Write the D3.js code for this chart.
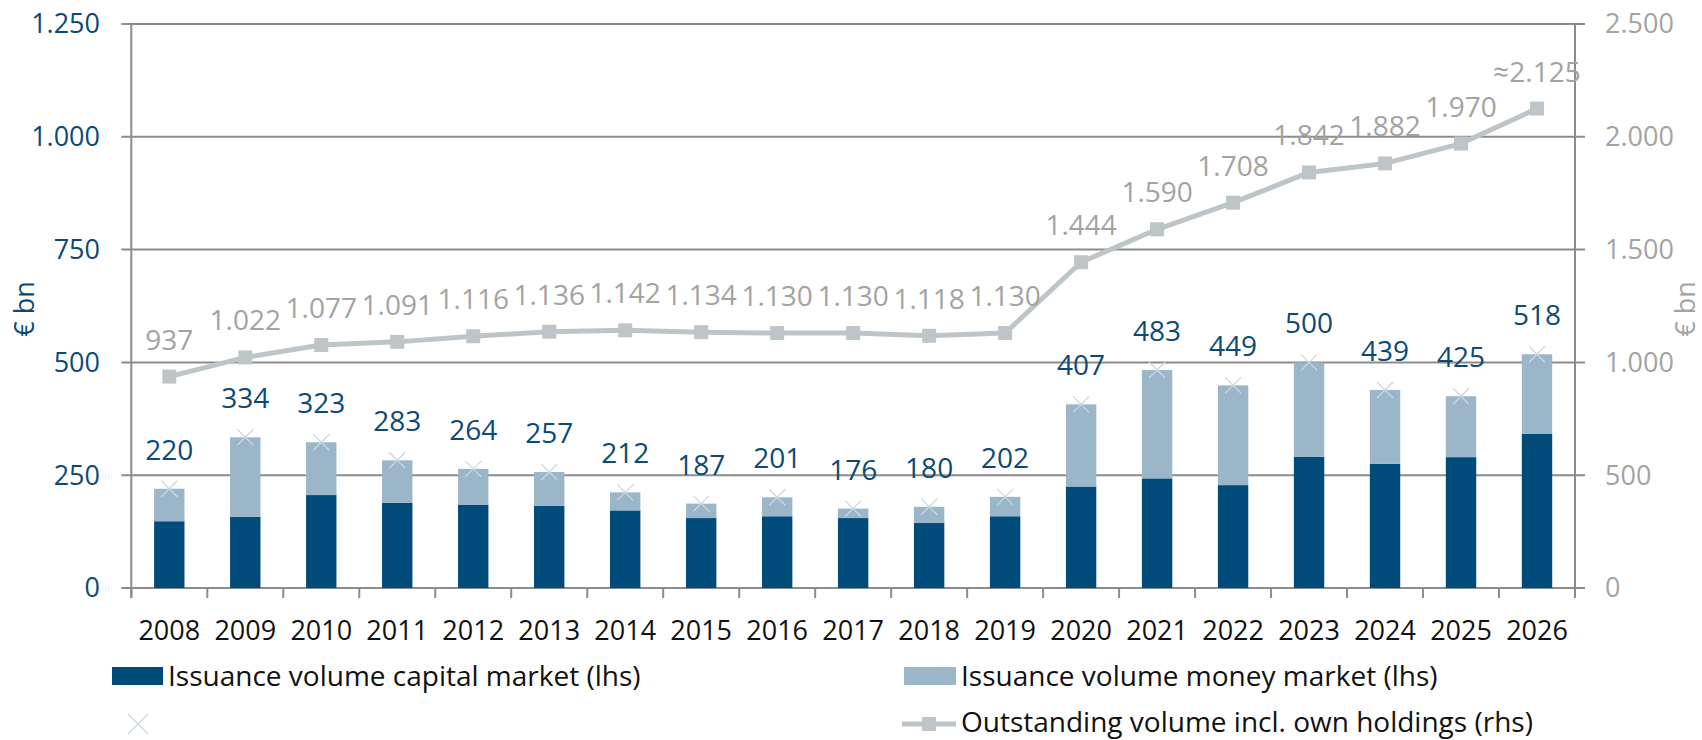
<!DOCTYPE html>
<html><head><meta charset="utf-8">
<script src="https://cdn.jsdelivr.net/npm/d3@7"></script>
<style>
html,body{margin:0;padding:0;background:#fff;}
svg text{font-family:"Open Sans",sans-serif;}
</style></head>
<body>
<svg id="chart" width="1702" height="740"></svg>
<script>
const years = ["2008","2009","2010","2011","2012","2013","2014","2015","2016","2017","2018","2019","2020","2021","2022","2023","2024","2025","2026"];
const totalVolume = [220,334,323,283,264,257,212,187,201,176,180,202,407,483,449,500,439,425,518];
const capitalMarket = [148,158,206,189,184,182,172,155,159,155,144,159,225,243,228,291,275,290,342];
const outstanding = [937,1022,1077,1091,1116,1136,1142,1134,1130,1130,1118,1130,1444,1590,1708,1842,1882,1970,2125];
const outstandingLabels = ["937","1.022","1.077","1.091","1.116","1.136","1.142","1.134","1.130","1.130","1.118","1.130","1.444","1.590","1.708","1.842","1.882","1.970","≈2.125"];
const leftTicks = [0,250,500,750,1000,1250];
const rightTicks = [0,500,1000,1500,2000,2500];
const legendLabels = ["Issuance volume capital market (lhs)","Issuance volume money market (lhs)","Outstanding volume incl. own holdings (rhs)"];

const C = {dark:"#004b7a", light:"#9bb6c9", line:"#bec5c9", grid:"#8c8c8c", grayText:"#a3a3a3", blueText:"#0b4a77", xmark:"#c9d9e4"};
const FS = 28, FT = 27;

const moneyMarket = totalVolume.map((t,i)=>t-capitalMarket[i]);
const loc = d3.formatLocale({decimal:",", thousands:".", grouping:[3], currency:["","€"]});
const fmt = loc.format(",");

const svg = d3.select("#chart");
const L = 131.3, R = 1575, T = 24, B = 588;

const x = d3.scaleBand().domain(years).range([L,R]).paddingInner(0.6).paddingOuter(0.3);
const xb = d3.scaleBand().domain(years).range([L,R]).padding(0);
const yL = d3.scaleLinear().domain([0,1250]).range([B,T]);
const yR = d3.scaleLinear().domain([0,2500]).range([B,T]);

// gridlines
svg.append("g").selectAll("line").data(leftTicks).join("line")
  .attr("x1",L-10).attr("x2",R+10).attr("y1",d=>yL(d)).attr("y2",d=>yL(d))
  .attr("stroke",C.grid).attr("stroke-width",2);
// vertical axes
svg.append("line").attr("x1",L).attr("x2",L).attr("y1",T).attr("y2",B+10).attr("stroke",C.grid).attr("stroke-width",2);
svg.append("line").attr("x1",R).attr("x2",R).attr("y1",T).attr("y2",B+10).attr("stroke",C.grid).attr("stroke-width",2);
// category ticks
const bounds = years.map(y=>xb(y)).concat([R]);
svg.append("g").selectAll("line").data(bounds).join("line")
  .attr("x1",d=>d).attr("x2",d=>d).attr("y1",B).attr("y2",B+10)
  .attr("stroke",C.grid).attr("stroke-width",2);

// left tick labels
svg.append("g").selectAll("text").data(leftTicks).join("text")
  .attr("x",100).attr("y",d=>yL(d)).attr("dy","0.35em").attr("text-anchor","end")
  .attr("font-size",FT).attr("fill",C.blueText).text(d=>fmt(d));
// right tick labels
svg.append("g").selectAll("text").data(rightTicks).join("text")
  .attr("x",1605).attr("y",d=>yR(d)).attr("dy","0.35em").attr("text-anchor","start")
  .attr("font-size",FT).attr("fill",C.grayText).text(d=>fmt(d));
// axis titles
svg.append("text").attr("transform","translate(25,309) rotate(-90)").attr("text-anchor","middle").attr("dy","0.35em")
  .attr("font-size",FT).attr("fill",C.blueText).text("€ bn");
svg.append("text").attr("transform","translate(1686,309) rotate(-90)").attr("text-anchor","middle").attr("dy","0.35em")
  .attr("font-size",FT).attr("fill",C.grayText).text("€ bn");

// x labels
svg.append("g").selectAll("text").data(years).join("text")
  .attr("x",d=>x(d)+x.bandwidth()/2).attr("y",640).attr("text-anchor","middle")
  .attr("font-size",FT).attr("fill","#111").text(d=>d);

// bars
svg.append("g").selectAll("rect").data(years).join("rect")
  .attr("x",d=>x(d)).attr("width",x.bandwidth())
  .attr("y",(d,i)=>yL(capitalMarket[i])).attr("height",(d,i)=>B-yL(capitalMarket[i]))
  .attr("fill",C.dark);
svg.append("g").selectAll("rect").data(years).join("rect")
  .attr("x",d=>x(d)).attr("width",x.bandwidth())
  .attr("y",(d,i)=>yL(capitalMarket[i]+moneyMarket[i])).attr("height",(d,i)=>yL(capitalMarket[i])-yL(capitalMarket[i]+moneyMarket[i]))
  .attr("fill",C.light);

// X markers at totals
const xm = svg.append("g").attr("stroke",C.xmark).attr("stroke-width",1.3);
years.forEach((d,i)=>{
  const cx = x(d)+x.bandwidth()/2, cy = yL(totalVolume[i]), s=8;
  xm.append("path").attr("d",`M${cx-s},${cy-s}L${cx+s},${cy+s}M${cx-s},${cy+s}L${cx+s},${cy-s}`);
});

// bar labels
svg.append("g").selectAll("text").data(years).join("text")
  .attr("x",d=>x(d)+x.bandwidth()/2).attr("y",(d,i)=>yL(totalVolume[i])-29).attr("text-anchor","middle")
  .attr("font-size",FS).attr("fill",C.blueText).text((d,i)=>totalVolume[i]);

// line
const line = d3.line().x((d,i)=>x(years[i])+x.bandwidth()/2).y(d=>yR(d));
svg.append("path").datum(outstanding).attr("d",line).attr("fill","none").attr("stroke",C.line).attr("stroke-width",5).attr("stroke-linejoin","round");
svg.append("g").selectAll("rect").data(outstanding).join("rect")
  .attr("x",(d,i)=>x(years[i])+x.bandwidth()/2-7).attr("y",d=>yR(d)-7).attr("width",14).attr("height",14)
  .attr("fill",C.line);
svg.append("g").selectAll("text").data(outstanding).join("text")
  .attr("x",(d,i)=>x(years[i])+x.bandwidth()/2).attr("y",d=>yR(d)-27).attr("text-anchor","middle")
  .attr("font-size",FS).attr("fill",C.grayText).text((d,i)=>outstandingLabels[i]);

// legend
const lg = svg.append("g");
lg.append("rect").attr("x",112).attr("y",667).attr("width",51).attr("height",18).attr("fill",C.dark);
lg.append("text").attr("x",168).attr("y",686).attr("font-size",FS).attr("fill","#111").text(legendLabels[0]);
lg.append("rect").attr("x",904).attr("y",667).attr("width",52).attr("height",18).attr("fill",C.light);
lg.append("text").attr("x",961).attr("y",686).attr("font-size",FS).attr("fill","#111").text(legendLabels[1]);
lg.append("path").attr("d","M128,714L148,734M128,734L148,714").attr("stroke",C.xmark).attr("stroke-width",1.3);
lg.append("line").attr("x1",902).attr("x2",956).attr("y1",724).attr("y2",724).attr("stroke",C.line).attr("stroke-width",5);
lg.append("rect").attr("x",922).attr("y",717).attr("width",14).attr("height",14).attr("fill",C.line);
lg.append("text").attr("x",961).attr("y",732).attr("font-size",FS).attr("fill","#111").text(legendLabels[2]);
</script>
</body></html>
